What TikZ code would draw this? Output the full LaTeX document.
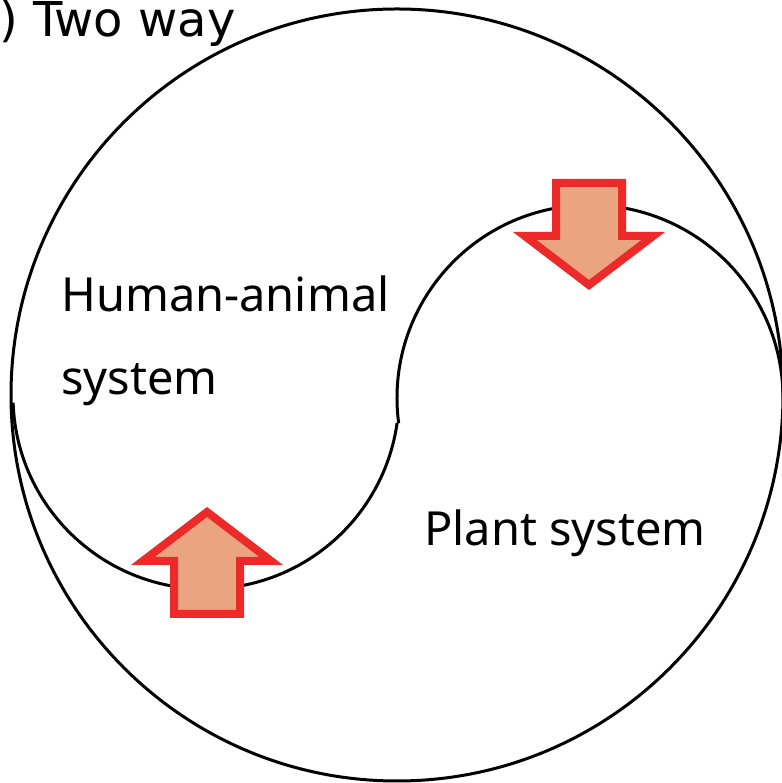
\documentclass[tikz,border=0pt]{standalone}
\usepackage{fontspec}
\setmainfont{Noto Sans}
\newfontfamily\titlefont{DejaVu Sans}
\definecolor{arrowred}{RGB}{236,42,42}
\definecolor{arrowfill}{RGB}{234,165,128}
\tikzset{
  ring/.style={draw=black, line width=3pt},
  arrowstyle/.style={draw=arrowred, fill=arrowfill, line width=8pt, line join=miter},
  bigarrow/.pic={\draw[arrowstyle] (0,-5) -- (64.2,-54) -- (33,-54) -- (33,-107) -- (-33,-107) -- (-33,-54) -- (-64.2,-54) -- cycle;},
  lbl/.style={inner sep=0pt, anchor=base west, font=\fontsize{47}{56}\selectfont},
  ttl/.style={inner sep=0pt, anchor=base west, font=\titlefont\fontsize{48}{57}\selectfont}
}
\begin{document}
\begin{tikzpicture}[x=1pt,y=1pt]
\useasboundingbox (0,0) rectangle (781,783);
\coordinate (oc) at (397,388);
\coordinate (rc) at (590,385);
\coordinate (lc) at (206,387);
% outer circle
\draw[ring] (oc) circle[radius=386];
% S-curve
\draw[ring] ([shift={(187.5:193)}]rc) arc[start angle=187.5, end angle=0, radius=193];
\draw[ring] ([shift={(182:193)}]lc) arc[start angle=182, end angle=352, radius=193];
% arrows
\pic at (207,276) {bigarrow};
\pic[rotate=180] at (589,493) {bigarrow};
% texts
\node[ttl] (title) at (-1,746) {) Two way};
\node[lbl] (human) at (61,471) {Human-animal};
\node[lbl] (system) at (61,388) {system};
\node[lbl] (plant) at (424,237) {Plant system};
\end{tikzpicture}
\end{document}
